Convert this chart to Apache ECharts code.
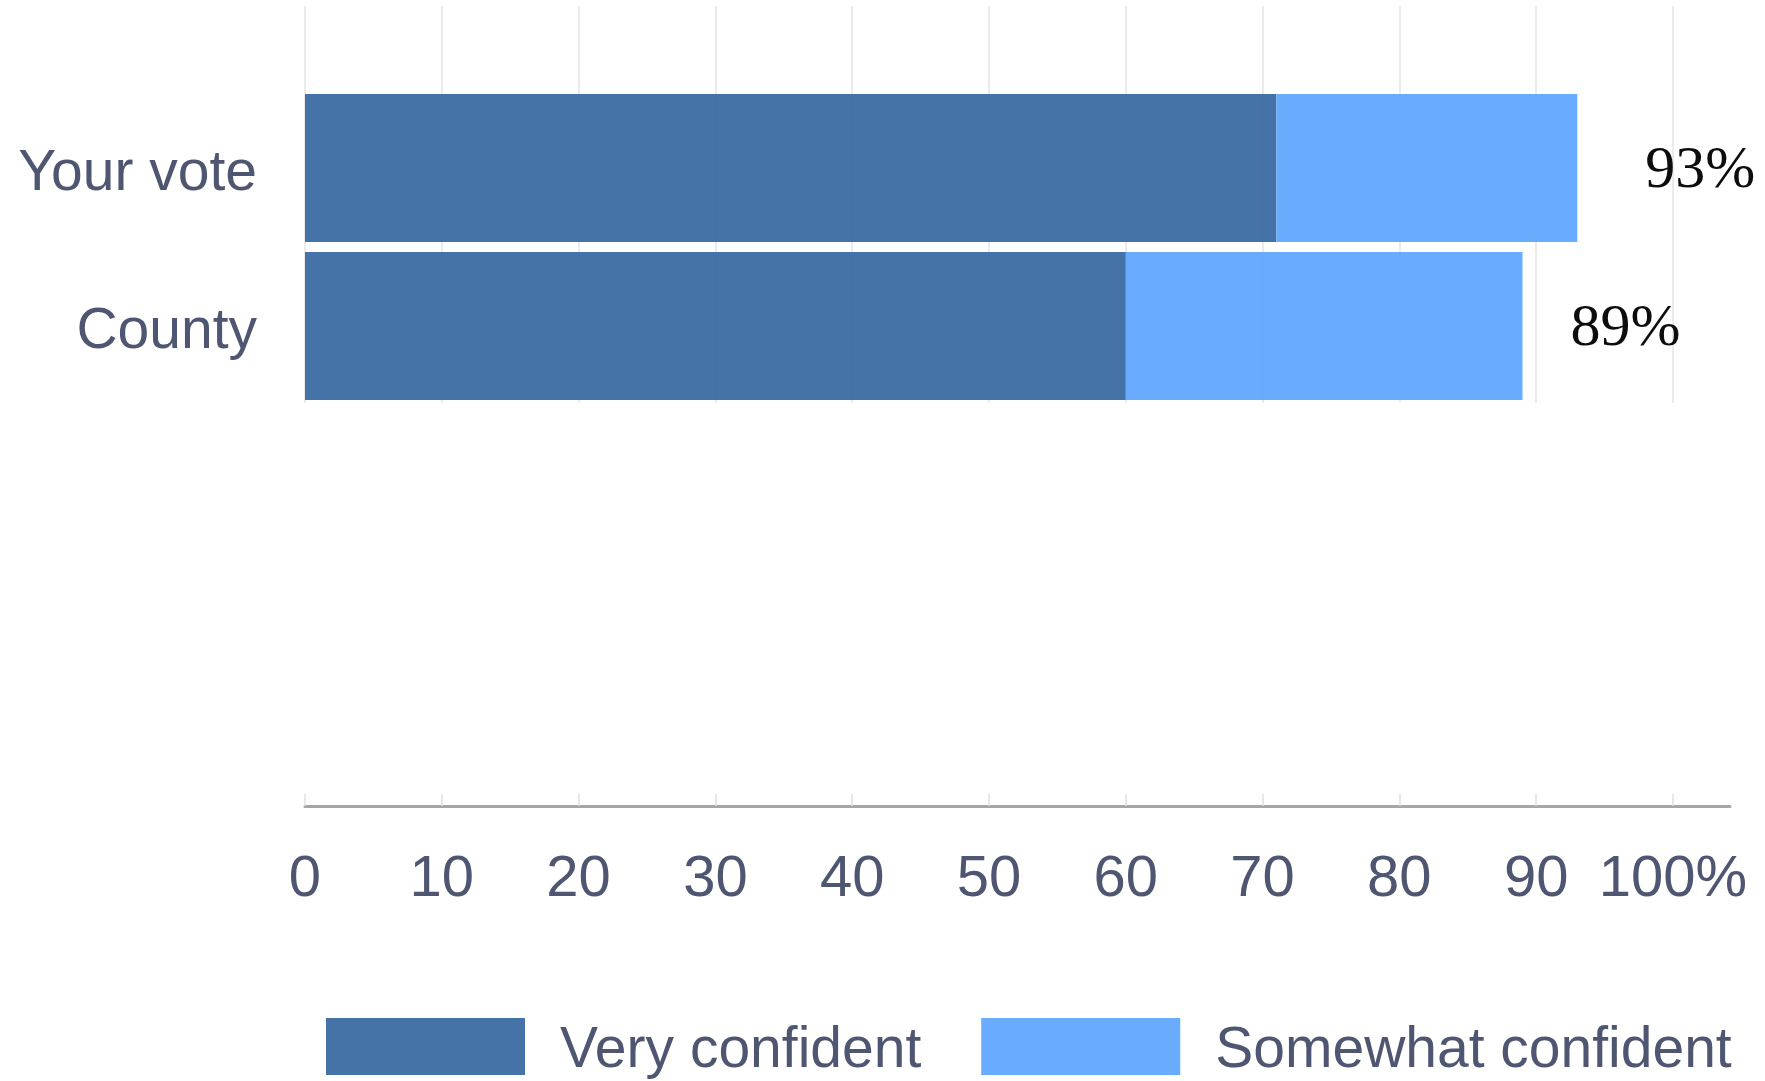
<!DOCTYPE html>
<html>
<head>
<meta charset="utf-8">
<script src="https://cdn.jsdelivr.net/npm/echarts@6/dist/echarts.min.js"></script>
<style>
html,body{margin:0;padding:0;background:#fff;}
#chart{width:1765px;height:1081px;}
</style>
</head>
<body>
<div id="chart"></div>
<script>
const categories = ['Your vote', 'County'];
const veryConfident = [71, 60];
const somewhatConfident = [22, 29];
const totals = [93, 89];
const tickValues = [0, 10, 20, 30, 40, 50, 60, 70, 80, 90, 100];
const tickLabels = ['0', '10', '20', '30', '40', '50', '60', '70', '80', '90', '100%'];
const seriesNames = ['Very confident', 'Somewhat confident'];

const textColor = '#4f5672';
const sans = "'Liberation Sans', Arial, sans-serif";
const labelDistances = [68, 48];

const chart = echarts.init(document.getElementById('chart'), null, {renderer: 'canvas'});

const option = {
  backgroundColor: '#ffffff',
  animation: false,
  grid: [
    {left: 305, width: 1368, top: 6, height: 397},
    {left: 305, width: 1368, top: 89, height: 316},
    {left: 305, width: 1425, top: 6, height: 800}
  ],
  legend: {
    data: seriesNames,
    left: 321,
    top: 1013,
    icon: 'rect',
    itemWidth: 199,
    itemHeight: 57,
    itemGap: 60,
    formatter: function (name) { return '{t|' + name + '}'; },
    textStyle: {
      fontFamily: sans,
      fontSize: 57,
      color: textColor,
      padding: [0, 0, 0, 30],
      rich: {
        t: {fontFamily: sans, fontSize: 57, color: textColor, padding: [10, 0, 0, 0]}
      }
    }
  },
  xAxis: [
    {
      gridIndex: 0, type: 'value', min: 0, max: 100, interval: 10,
      axisLine: {show: false}, axisTick: {show: false}, axisLabel: {show: false},
      splitLine: {show: true, lineStyle: {color: '#e4e4e4', width: 1.5}}
    },
    {
      gridIndex: 1, type: 'value', min: 0, max: 100, show: false
    },
    {
      gridIndex: 2, type: 'value', min: 0, max: 104.17,
      splitLine: {show: false},
      axisLine: {show: true, lineStyle: {color: '#a6a6a6', width: 3}},
      axisTick: {show: true, inside: true, length: 12, customValues: tickValues,
                 lineStyle: {color: '#e0e0e0', width: 1.5}},
      axisLabel: {
        show: true, customValues: tickValues, margin: 45,
        fontFamily: sans, fontSize: 58, color: textColor,
        formatter: function (v) {
          const i = tickValues.indexOf(v);
          return i >= 0 ? tickLabels[i] : '';
        }
      }
    }
  ],
  yAxis: [
    {gridIndex: 0, type: 'value', show: false},
    {
      gridIndex: 1, type: 'category', data: categories, inverse: true,
      axisLine: {show: false}, axisTick: {show: false}, splitLine: {show: false},
      axisLabel: {
        margin: 48,
        formatter: function (v) { return '{c|' + v + '}'; },
        rich: {
          c: {fontFamily: sans, fontSize: 57, color: textColor, padding: [12, 0, 0, 0]}
        }
      }
    },
    {gridIndex: 2, type: 'value', show: false}
  ],
  series: [
    {
      name: seriesNames[0], type: 'bar', stack: 'total',
      xAxisIndex: 1, yAxisIndex: 1,
      barCategoryGap: '6.3%',
      itemStyle: {color: '#3c6ca2', opacity: 0.95},
      data: veryConfident
    },
    {
      name: seriesNames[1], type: 'bar', stack: 'total',
      xAxisIndex: 1, yAxisIndex: 1,
      barCategoryGap: '6.3%',
      itemStyle: {color: '#61a6fd', opacity: 0.95},
      data: somewhatConfident.map(function (v, i) {
        return {
          value: v,
          label: {
            show: true, position: 'right', distance: labelDistances[i],
            offset: [0, 3],
            formatter: totals[i] + '%',
            fontFamily: "'Liberation Serif', 'Times New Roman', serif",
            fontSize: 60, color: '#000000'
          }
        };
      })
    }
  ]
};

chart.setOption(option);
</script>
</body>
</html>
